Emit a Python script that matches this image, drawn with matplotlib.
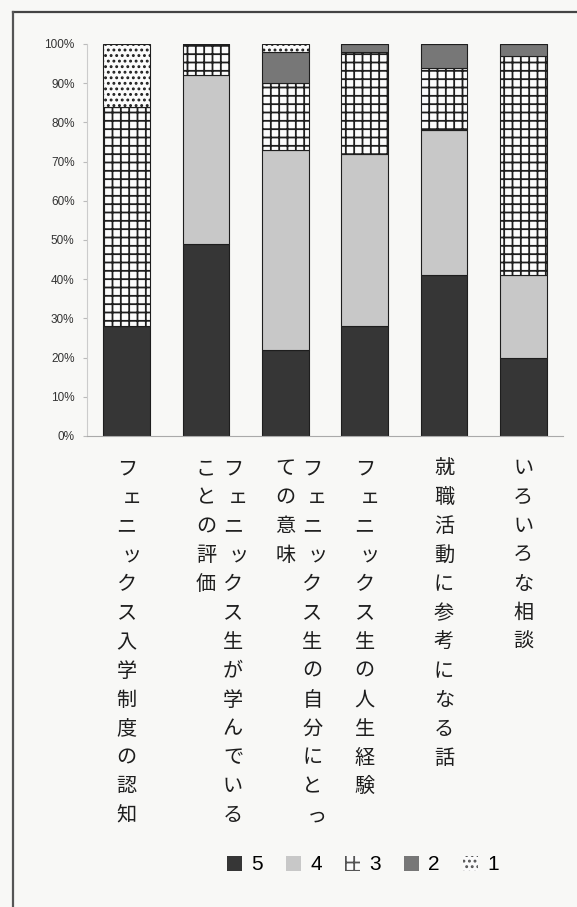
import matplotlib
matplotlib.use("Agg")
import matplotlib.pyplot as plt
import matplotlib.transforms as mtransforms
from matplotlib.patches import Patch
from matplotlib.lines import Line2D
import numpy as np

plt.rcParams['font.family'] = ['Noto Sans CJK JP', 'DejaVu Sans']
plt.rcParams['hatch.linewidth'] = 1.3

# ---- data ----
categories = [
    "フェニックス入学制度の認知",
    "フェニックス生が学んでいることの評価",
    "フェニックス生の自分にとっての意味",
    "フェニックス生の人生経験",
    "就職活動に参考になる話",
    "いろいろな相談",
]
series_names = ["5", "4", "3", "2", "1"]
s5 = [28, 49, 22, 28, 41, 20]
s4 = [0, 43, 51, 44, 37, 21]
s3 = [56, 8, 17, 26, 16, 56]
s2 = [0, 0, 8, 2, 6, 3]
s1 = [16, 0, 2, 0, 0, 0]
yticks = [0, 10, 20, 30, 40, 50, 60, 70, 80, 90, 100]
ytick_labels = [f"{v}%" for v in yticks]

series = [s5, s4, s3, s2, s1]
styles = [
    dict(facecolor="#363636", hatch=None),
    dict(facecolor="#c8c8c8", hatch=None),
    dict(facecolor="#fbfbfb", hatch="++"),
    dict(facecolor="#777777", hatch=None),
    dict(facecolor="#fbfbfb", hatch="..."),
]

W, H = 577, 907
bg = "#f8f8f6"
fig = plt.figure(figsize=(W / 100, H / 100), dpi=100, facecolor=bg)

ax_left, ax_right = 87, 563
ax_top, ax_bot = 44, 436
ax = fig.add_axes([ax_left / W, 1 - ax_bot / H, (ax_right - ax_left) / W, (ax_bot - ax_top) / H])
ax.set_facecolor(bg)

x = np.arange(len(categories))
bottom = np.zeros(len(categories))
for vals, st in zip(series, styles):
    vals = np.array(vals, dtype=float)
    ax.bar(x, vals, width=0.59, bottom=bottom, color=st["facecolor"],
           hatch=st["hatch"], edgecolor="#1e1e1e", linewidth=0.8)
    bottom += vals

ax.set_xlim(-0.5, len(categories) - 0.5)
ax.set_ylim(0, 100)
ax.set_yticks(yticks)
ax.set_yticklabels(ytick_labels, fontsize=8.5, color="#333333",
                   family=['Liberation Sans', 'DejaVu Sans'])
ax.tick_params(axis="y", length=3, color="#bbbbbb", pad=6)
ax.set_xticks([])
for side in ["top", "right"]:
    ax.spines[side].set_visible(False)
ax.spines["left"].set_color("#cccccc")
ax.spines["left"].set_linewidth(0.8)
ax.spines["bottom"].set_color("#aaaaaa")
ax.spines["bottom"].set_linewidth(0.8)

# ---- vertical category labels ----
col_len = 13
row0 = 469
pitch = 28.9
col_dx = 27
small = set("ェッっャュョ")
base = mtransforms.blended_transform_factory(ax.transData, fig.transFigure)
for i, lab in enumerate(categories):
    cols = [lab[k:k + col_len] for k in range(0, len(lab), col_len)]
    ncol = len(cols)
    for c, text in enumerate(cols):
        dx = col_dx * (ncol - 1 - c)
        for r, ch in enumerate(text):
            sx = 5 if ch in small else 0
            tr = mtransforms.offset_copy(base, fig=fig, x=dx + sx, y=0, units="dots")
            fig.text(i, 1 - (row0 + r * pitch) / H, ch, transform=tr,
                     ha="center", va="center", fontsize=14.5, color="#1e1e1e")

# ---- legend ----
handles = [Patch(facecolor=st["facecolor"], hatch=st["hatch"],
                 edgecolor="#555555" if st["hatch"] else st["facecolor"], linewidth=0.0)
           for st in styles]
fig.legend(handles, series_names, loc="center", bbox_to_anchor=(363 / W, 1 - 865 / H),
           ncol=5, frameon=False, handlelength=0.72, handleheight=0.72,
           handletextpad=0.45, columnspacing=1.1,
           prop=dict(family=['Liberation Sans', 'DejaVu Sans'], size=15))

# ---- page border (top and left) ----
fig.add_artist(Line2D([13 / W, 1.0], [1 - 12 / H, 1 - 12 / H], transform=fig.transFigure,
                      color="#444444", linewidth=1.6))
fig.add_artist(Line2D([13 / W, 13 / W], [1 - 12 / H, 0.0], transform=fig.transFigure,
                      color="#555555", linewidth=1.6))

fig.savefig("out.png", dpi=100, facecolor=bg)
